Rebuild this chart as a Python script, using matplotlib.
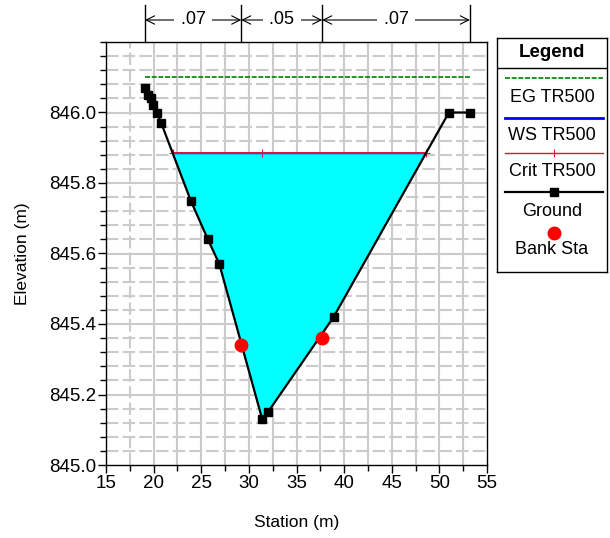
import numpy as np
import matplotlib.pyplot as plt
from matplotlib.transforms import blended_transform_factory

plt.rcParams['font.family'] = ['Liberation Sans', 'DejaVu Sans']

# Ground profile (station, elevation)
ground_sta = [19.1, 19.4, 19.7, 19.9, 20.35, 20.8, 23.9, 25.7, 26.9, 31.4, 32.0, 38.9, 51.0, 53.2]
ground_elev = [846.07, 846.05, 846.04, 846.02, 846.00, 845.97, 845.75, 845.64, 845.57,
               845.13, 845.15, 845.42, 846.00, 846.00]

# Bank stations
bank_sta = [29.2, 37.7]
bank_elev = [845.34, 845.36]

# Water surfaces for TR500
eg_elev = 846.10
ws_elev = 845.884
crit_elev = 845.884

# Manning's n breaks along the section
n_breaks = [19.1, 29.2, 37.7, 53.2]
n_values = ['.07', '.05', '.07']


def crossings(xs, ys, level):
    '''
    Stations where the ground line crosses a given elevation.
    '''
    out = []
    for i in range(1, len(xs)):
        y0, y1 = ys[i-1] - level, ys[i] - level
        if y0 * y1 < 0:
            t = y0 / (y0 - y1)
            out.append(xs[i-1] + t * (xs[i] - xs[i-1]))
    return out


fig = plt.figure(figsize=(6.10, 5.38), dpi=100)
ax = fig.add_axes([106/610, 1 - 465/538, 381/610, 423/538])

ax.set_xlim(15, 55)
ax.set_ylim(845.0, 846.2)

# Grid: vertical every 2.5, horizontal every 0.04 with solid majors
for x in np.arange(17.5, 55, 2.5):
    ax.axvline(x, color='#cbcbcb', lw=1.5, ls=(0, (6, 2)) if x == 17.5 else '-', zorder=0)
for y in np.arange(845.04, 846.2, 0.04):
    major = abs((y - 845.0) / 0.2 - round((y - 845.0) / 0.2)) < 1e-6
    ax.axhline(y, color='#cbcbcb', lw=1.5, ls='-' if major else (0, (6, 2)), zorder=0)

# Flow area
left, right = crossings(ground_sta, ground_elev, ws_elev)[:2]
xs = [left] + [s for s in ground_sta if left < s < right] + [right]
ys = [ws_elev] + [e for s, e in zip(ground_sta, ground_elev) if left < s < right] + [ws_elev]
ax.fill(xs, ys, color='#00ffff', zorder=1)

# Critical depth points: both edges and the thalweg
thalweg = ground_sta[int(np.argmin(ground_elev))]

ax.plot([ground_sta[0], ground_sta[-1]], [eg_elev, eg_elev], color='#008000',
        lw=1.2, ls=(0, (3, 1)), zorder=3)
ax.plot([left, right], [ws_elev, ws_elev], color='#0000ff', lw=1.0, zorder=3)
ax.plot([left, thalweg, right], [crit_elev] * 3, color='#d81830', lw=1.4,
        marker='+', ms=6, mew=0.8, zorder=4)
ax.plot(ground_sta, ground_elev, color='black', lw=1.6, marker='s', ms=5.5, zorder=5)
ax.plot(bank_sta, bank_elev, 'o', color='#ff0000', ms=9, zorder=6)

ax.set_xticks(np.arange(15, 56, 5))
ax.set_xticks(np.arange(15, 55, 2.5), minor=True)
ax.set_yticks(np.arange(845.0, 846.01, 0.2))
ax.set_yticks(np.arange(845.0, 846.2, 0.04), minor=True)
ax.set_yticklabels(['%.1f' % v for v in np.arange(845.0, 846.01, 0.2)])
ax.tick_params(axis='both', which='major', direction='out', length=6, width=1,
               labelsize=13.5, pad=1)
ax.tick_params(axis='both', which='minor', direction='out', length=4, width=1)
ax.set_xlabel('Station (m)', fontsize=12.5, labelpad=17)
ax.set_ylabel('Elevation (m)', fontsize=12.5, labelpad=14)
for sp in ax.spines.values():
    sp.set_linewidth(1.0)

# Manning's n annotation above the plot
trans = blended_transform_factory(ax.transData, fig.transFigure)
for x in n_breaks:
    ax.plot([x, x], [1 - 42/538, 1 - 5/538], color='black', lw=1.0,
            transform=trans, clip_on=False)
y_arrow = 1 - 20/538
for i, label in enumerate(n_values):
    x0, x1 = n_breaks[i], n_breaks[i+1]
    ax.annotate('', xy=(x1, y_arrow), xytext=(x0, y_arrow), xycoords=trans,
                textcoords=trans,
                arrowprops=dict(arrowstyle='<->, head_length=0.6, head_width=0.3',
                                color='black', lw=0.8, shrinkA=0, shrinkB=0))
    ax.text((x0 + x1) / 2, y_arrow, ' ' + label + ' ', transform=trans,
            ha='center', va='center', fontsize=13,
            bbox=dict(facecolor='white', edgecolor='none', pad=1))

# Legend panel
lg = fig.add_axes([497/610, 1 - 272/538, 110/610, 234/538])
lg.set_xlim(0, 110)
lg.set_ylim(234, 0)
lg.set_xticks([])
lg.set_yticks([])
for sp in lg.spines.values():
    sp.set_linewidth(1.0)
lg.axhline(30, color='black', lw=1.0)
lg.text(55, 15, 'Legend', ha='center', va='center', fontsize=13.5, fontweight='bold')
lg.plot([8, 106], [40, 40], color='#008000', lw=1.2, ls=(0, (3, 1)))
lg.text(55, 59, 'EG TR500', ha='center', va='center', fontsize=13)
lg.plot([8, 106], [80, 80], color='#0000ff', lw=2)
lg.text(55, 98, 'WS TR500', ha='center', va='center', fontsize=13)
lg.plot([8, 57, 106], [115, 115, 115], color='#d81830', lw=1.0, marker='+',
        ms=6, mew=0.8, markevery=[1])
lg.text(55, 133, 'Crit TR500', ha='center', va='center', fontsize=13)
lg.plot([8, 57, 106], [154, 154, 154], color='black', lw=1.6, marker='s',
        ms=5.5, markevery=[1])
lg.text(55, 173, 'Ground', ha='center', va='center', fontsize=13)
lg.plot([57], [195], 'o', color='#ff0000', ms=9)
lg.text(55, 212, 'Bank Sta', ha='center', va='center', fontsize=13)

fig.savefig('out.png', dpi=100)
